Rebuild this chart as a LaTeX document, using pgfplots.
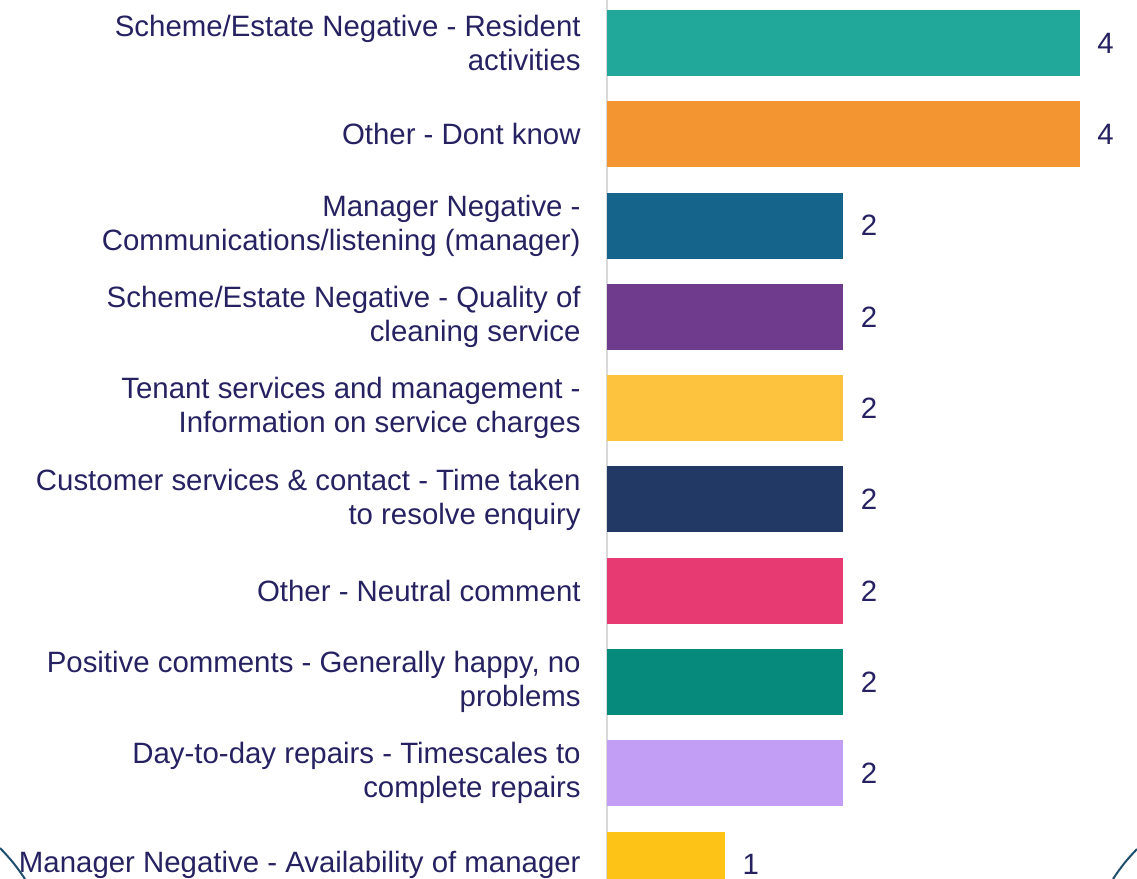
\documentclass[border=0pt]{standalone}
\usepackage{pgfplots}
\pgfplotsset{compat=1.18}
\usepackage{fontspec}
\setmainfont{Liberation Sans}
\definecolor{txt}{RGB}{38,34,98}
\definecolor{c0}{RGB}{34,168,154}
\definecolor{c1}{RGB}{243,149,48}
\definecolor{c2}{RGB}{20,100,140}
\definecolor{c3}{RGB}{111,59,140}
\definecolor{c4}{RGB}{253,194,62}
\definecolor{c5}{RGB}{33,57,100}
\definecolor{c6}{RGB}{232,58,114}
\definecolor{c7}{RGB}{6,138,124}
\definecolor{c8}{RGB}{195,158,245}
\definecolor{c9}{RGB}{253,195,23}
\definecolor{arc}{RGB}{30,78,110}
\begin{document}
\begin{tikzpicture}[x=1pt,y=1pt]
\path[use as bounding box] (0,0) rectangle (568.5,439.5);
\begin{scope}
\clip (0,0) rectangle (568.5,439.5);
\begin{axis}[at={(303.5pt,0pt)}, anchor=south west, scale only axis,
  width=265pt, height=439.5pt,
  xmin=0, xmax=4.482, ymin=-0.471, ymax=9.157, y dir=reverse,
  xbar, bar shift=0pt, bar width=33pt,
  axis lines*=left,
  x axis line style={draw=none},
  y axis line style={-, draw=black!15, line width=1pt},
  xtick=\empty,
  ytick={0,1,2,3,4,5,6,7,8,9},
  yticklabels={
    {Scheme/Estate Negative - Resident\\activities},
    {Other - Dont know},
    {Manager Negative -\\Communications/listening (manager)},
    {Scheme/Estate Negative - Quality of\\cleaning service},
    {Tenant services and management -\\Information on service charges},
    {Customer services \& contact - Time taken\\to resolve enquiry},
    {Other - Neutral comment},
    {Positive comments - Generally happy, no\\problems},
    {Day-to-day repairs - Timescales to\\complete repairs},
    {Manager Negative - Availability of manager}},
  major tick length=0pt,
  tick style={draw=none},
  yticklabel style={align=right, anchor=east, inner sep=0pt, xshift=-13pt,
    font=\fontsize{14.7}{17}\selectfont, text=txt},
  /pgf/number format/assume math mode=true,
  nodes near coords,
  nodes near coords style={anchor=west, inner sep=0pt, xshift=8.5pt,
    font=\fontsize{14.7}{17}\selectfont, text=txt},
  clip=false,
]
\addplot[fill=c0, draw=none] coordinates {(4,0)};
\addplot[fill=c1, draw=none] coordinates {(4,1)};
\addplot[fill=c2, draw=none] coordinates {(2,2)};
\addplot[fill=c3, draw=none] coordinates {(2,3)};
\addplot[fill=c4, draw=none] coordinates {(2,4)};
\addplot[fill=c5, draw=none] coordinates {(2,5)};
\addplot[fill=c6, draw=none] coordinates {(2,6)};
\addplot[fill=c7, draw=none] coordinates {(2,7)};
\addplot[fill=c8, draw=none] coordinates {(2,8)};
\addplot[fill=c9, draw=none] coordinates {(1,9)};
\end{axis}
\draw[arc, line width=1pt] (0,15.5) to[bend left=5] (12.5,0);
\draw[arc, line width=1pt] (568.5,15) to[bend right=5] (556.5,0);
\end{scope}
\end{tikzpicture}
\end{document}
